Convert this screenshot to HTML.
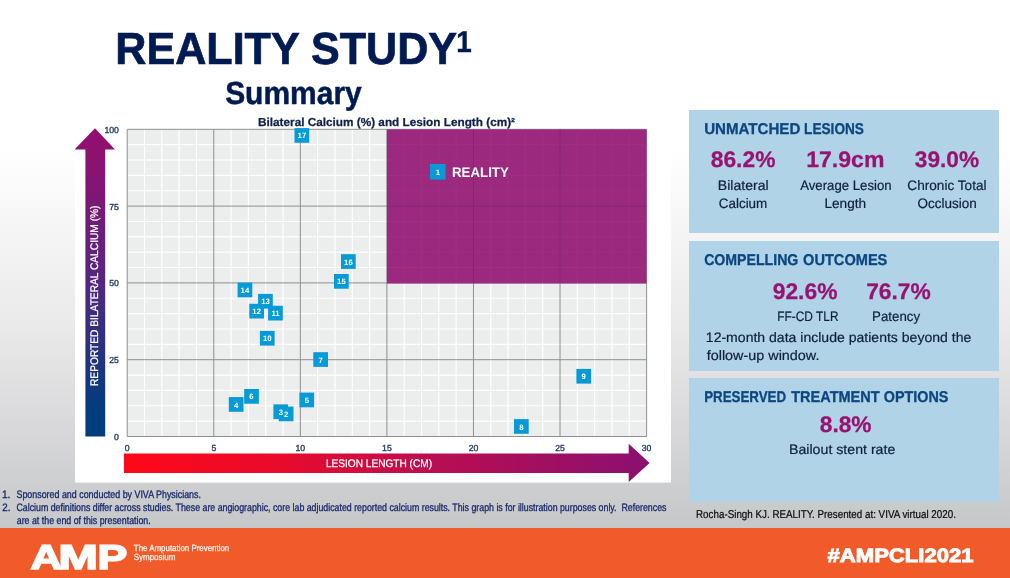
<!DOCTYPE html>
<html lang="en">
<head>
<meta charset="utf-8">
<title>REALITY STUDY Summary</title>
<style>
*{margin:0;padding:0;box-sizing:border-box}
html,body{width:1010px;height:578px;overflow:hidden}
body{position:relative;font-family:"Liberation Sans",sans-serif;background:#fff;text-rendering:geometricPrecision}
.slide{position:absolute;left:0;top:0;width:1010px;height:578px;overflow:hidden;
 background:linear-gradient(to bottom,#ffffff 0px,#ffffff 150px,#e9e9ea 330px,#c6c7c9 528px)}
.t{position:absolute;left:0;top:0;white-space:nowrap;line-height:1;transform-origin:0 0;display:block}
.chart{position:absolute;left:75px;top:113px}
h1,h2{font:inherit}
.ttl{font-size:45px;font-weight:bold;color:#001a52;-webkit-text-stroke:0.7px #001a52}
.sup{font-size:30px;font-weight:bold;color:#001a52;-webkit-text-stroke:0.4px #001a52}
.sub{font-size:32px;font-weight:bold;color:#001a52;-webkit-text-stroke:0.5px #001a52}
.box{position:absolute;left:689px;width:310px;background:#b0d3e8}
.b1{top:109.8px;height:123.3px}
.b2{top:241.2px;height:129.8px}
.b3{top:378.3px;height:123.8px}
.hd{font-weight:bold;color:#0c4680;font-size:15.6px;-webkit-text-stroke:0.3px #0c4680}
.num{font-weight:bold;color:#991270;font-size:22.5px;-webkit-text-stroke:0.25px #991270}
.lb{color:#0f1f3d;font-size:13.7px;-webkit-text-stroke:0.2px #0f1f3d}
.fn{color:#17276a;font-size:10.8px;-webkit-text-stroke:0.3px #17276a}
.ref{color:#0a0a0a;font-size:11.4px;-webkit-text-stroke:0.2px #0a0a0a}
.footer{position:absolute;left:0;top:528px;width:1010px;height:50px;background:#f15a29}
.amp{color:#fff;font-weight:bold;font-size:34.4px;-webkit-text-stroke:1.6px #fff}
.tag{color:#fff;font-weight:bold;font-size:19.3px;-webkit-text-stroke:0.9px #fff}
.sym{color:#fff3ee;font-size:9px;-webkit-text-stroke:0.25px #fff3ee}
</style>
</head>
<body>
<div class="slide">
<h1><span class="t ttl" id="ttl" style="transform:translate(115.26px,25.60px) scaleX(0.9582)">REALITY STUDY</span><span class="t sup" id="sup" style="transform:translate(456.20px,27.90px) scaleX(0.9300)">1</span></h1>
<h2><span class="t sub" id="sub" style="transform:translate(225.13px,77.20px) scaleX(0.9368)">Summary</span></h2>
<svg class="chart" text-rendering="geometricPrecision" width="596" height="370" viewBox="75 113 596 370">
<defs>
<linearGradient id="gv" x1="0" y1="0" x2="0" y2="1"><stop offset="0" stop-color="#920f6e"/><stop offset="0.12" stop-color="#8c1270"/><stop offset="0.5" stop-color="#54277f"/><stop offset="0.92" stop-color="#003d7c"/><stop offset="1" stop-color="#003d7c"/></linearGradient>
<linearGradient id="gh" x1="0" y1="0" x2="1" y2="0"><stop offset="0" stop-color="#ff0818"/><stop offset="0.3" stop-color="#e80a2c"/><stop offset="0.6" stop-color="#b80e52"/><stop offset="1" stop-color="#8a1070"/></linearGradient>
</defs>
<rect x="75" y="113" width="596" height="369.6" fill="#ffffff"/>
<rect x="127.2" y="129.3" width="519.4" height="307.2" fill="#eceded"/>
<path d="M144.51 129.3V436.5M161.83 129.3V436.5M179.14 129.3V436.5M196.45 129.3V436.5M231.08 129.3V436.5M248.39 129.3V436.5M265.71 129.3V436.5M283.02 129.3V436.5M317.65 129.3V436.5M334.96 129.3V436.5M352.27 129.3V436.5M369.59 129.3V436.5M404.21 129.3V436.5M421.53 129.3V436.5M438.84 129.3V436.5M456.15 129.3V436.5M490.78 129.3V436.5M508.09 129.3V436.5M525.41 129.3V436.5M542.72 129.3V436.5M577.35 129.3V436.5M594.66 129.3V436.5M611.97 129.3V436.5M629.29 129.3V436.5M127.2 421.14H646.6M127.2 405.78H646.6M127.2 390.42H646.6M127.2 375.06H646.6M127.2 344.34H646.6M127.2 328.98H646.6M127.2 313.62H646.6M127.2 298.26H646.6M127.2 267.54H646.6M127.2 252.18H646.6M127.2 236.82H646.6M127.2 221.46H646.6M127.2 190.74H646.6M127.2 175.38H646.6M127.2 160.02H646.6M127.2 144.66H646.6" stroke="#ffffff" stroke-width="1.15" fill="none"/>
<path d="M127.20 129.3V436.5M213.77 129.3V436.5M300.33 129.3V436.5M386.90 129.3V436.5M473.47 129.3V436.5M560.03 129.3V436.5M646.60 129.3V436.5M127.2 436.50H646.6M127.2 359.70H646.6M127.2 282.90H646.6M127.2 206.10H646.6M127.2 129.30H646.6" stroke="#8d8f90" stroke-width="1" fill="none"/>
<rect x="386.9" y="129.3" width="259.7" height="154.2" fill="#9b2a7f"/>
<path d="M404.21 129.3V282.9M421.53 129.3V282.9M438.84 129.3V282.9M456.15 129.3V282.9M490.78 129.3V282.9M508.09 129.3V282.9M525.41 129.3V282.9M542.72 129.3V282.9M577.35 129.3V282.9M594.66 129.3V282.9M611.97 129.3V282.9M629.29 129.3V282.9M386.9 267.54H646.6M386.9 252.18H646.6M386.9 236.82H646.6M386.9 221.46H646.6M386.9 190.74H646.6M386.9 175.38H646.6M386.9 160.02H646.6M386.9 144.66H646.6" stroke="#a02e83" stroke-width="1.1" fill="none"/>
<path d="M473.47 129.3V282.9M560.03 129.3V282.9M386.9 206.10H646.6" stroke="#892573" stroke-width="1" fill="none"/>
<path d="M85.4 436.5V149.4H74.5L95 128.2L115 149.4H105.2V436.5Z" fill="url(#gv)"/>
<path d="M124 453.5H628.7V443.7L649.6 463L628.7 482H628.7V472.9H124Z" fill="url(#gh)"/>
<g font-family="'Liberation Sans', sans-serif" font-size="8.7" fill="#1f3a5f" stroke="#1f3a5f" stroke-width="0.35">
<text x="118.9" y="439.9" text-anchor="end">0</text>
<text x="118.9" y="363.1" text-anchor="end">25</text>
<text x="118.9" y="286.3" text-anchor="end">50</text>
<text x="118.9" y="209.5" text-anchor="end">75</text>
<text x="118.9" y="132.7" text-anchor="end">100</text>
<text x="127.2" y="451.3" text-anchor="middle">0</text>
<text x="213.8" y="451.3" text-anchor="middle">5</text>
<text x="300.3" y="451.3" text-anchor="middle">10</text>
<text x="386.9" y="451.3" text-anchor="middle">15</text>
<text x="473.5" y="451.3" text-anchor="middle">20</text>
<text x="560.0" y="451.3" text-anchor="middle">25</text>
<text x="646.6" y="451.3" text-anchor="middle">30</text>
</g>
<text x="258" y="125.8" font-family="'Liberation Sans', sans-serif" font-weight="bold" font-size="11.6" fill="#10204a" stroke="#10204a" stroke-width="0.25" textLength="257" lengthAdjust="spacingAndGlyphs">Bilateral Calcium (%) and Lesion Length (cm)²</text>
<text x="325.9" y="466.6" font-family="'Liberation Sans', sans-serif" font-size="11" fill="#ffffff" stroke="#ffffff" stroke-width="0.25" textLength="106.2" lengthAdjust="spacingAndGlyphs">LESION LENGTH (CM)</text>
<text transform="translate(98.3 386.0) rotate(-90)" font-family="'Liberation Sans', sans-serif" font-size="11" fill="#ffffff" stroke="#ffffff" stroke-width="0.25" textLength="180.5" lengthAdjust="spacingAndGlyphs">REPORTED BILATERAL CALCIUM (%)</text>
<g fill="#069ad6">
<rect x="294.5" y="128.1" width="14.7" height="14.7"/>
<rect x="430.0" y="164.0" width="15.6" height="15.6"/>
<rect x="341.0" y="254.2" width="14.7" height="14.7"/>
<rect x="334.0" y="274.0" width="14.7" height="14.7"/>
<rect x="237.6" y="282.6" width="14.7" height="14.7"/>
<rect x="258.1" y="293.9" width="14.7" height="14.7"/>
<rect x="249.3" y="303.8" width="14.7" height="14.7"/>
<rect x="268.1" y="305.8" width="14.7" height="14.7"/>
<rect x="259.9" y="330.9" width="14.7" height="14.7"/>
<rect x="313.3" y="352.2" width="14.7" height="14.7"/>
<rect x="244.2" y="389.0" width="14.7" height="14.7"/>
<rect x="228.8" y="397.1" width="14.7" height="14.7"/>
<rect x="299.4" y="392.6" width="14.7" height="14.7"/>
<rect x="273.4" y="404.4" width="14.7" height="14.7"/>
<rect x="278.8" y="406.6" width="14.7" height="14.7"/>
<rect x="576.4" y="368.9" width="14.7" height="14.7"/>
<rect x="514.0" y="419.1" width="14.7" height="14.7"/>
</g>
<g font-family="'Liberation Sans', sans-serif" font-weight="bold" font-size="7.8" fill="#ffffff" text-anchor="middle">
<text x="301.9" y="138.4">17</text>
<text x="437.8" y="174.8">1</text>
<text x="348.4" y="264.5">16</text>
<text x="341.4" y="284.4">15</text>
<text x="244.9" y="293.0">14</text>
<text x="265.5" y="304.3">13</text>
<text x="256.7" y="314.1">12</text>
<text x="275.5" y="316.2">11</text>
<text x="267.3" y="341.3">10</text>
<text x="320.7" y="362.6">7</text>
<text x="251.5" y="399.4">6</text>
<text x="236.1" y="407.5">4</text>
<text x="306.8" y="403.0">5</text>
<text x="280.8" y="414.8">3</text>
<text x="286.1" y="417.0">2</text>
<text x="583.7" y="379.3">9</text>
<text x="521.4" y="429.5">8</text>
</g>
<text x="452" y="177" font-family="'Liberation Sans', sans-serif" font-weight="bold" font-size="14" fill="#ffffff" textLength="56.8" lengthAdjust="spacingAndGlyphs">REALITY</text>
</svg>
<div class="box b1"></div>
<div class="box b2"></div>
<div class="box b3"></div>
<div class="grp"><span class="t hd" id="h1a" style="transform:translate(704.14px,121.80px) scaleX(0.9685)">UNMATCHED</span> <span class="t hd" id="h1b" style="transform:translate(804.10px,121.80px) scaleX(0.8742)">LESIONS</span></div>
<div class="t num" id="n1" style="transform:translate(710.74px,148.50px) scaleX(1.0139)">86.2%</div>
<div class="t num" id="n2" style="transform:translate(806.21px,148.50px) scaleX(1.0247)">17.9cm</div>
<div class="t num" id="n3" style="transform:translate(914.79px,148.50px) scaleX(1.0083)">39.0%</div>
<div class="t lb" id="l1a" style="transform:translate(717.85px,178.80px) scaleX(1.0259)">Bilateral</div>
<div class="t lb" id="l1b" style="transform:translate(718.72px,196.80px) scaleX(0.9828)">Calcium</div>
<div class="t lb" id="l2a" style="transform:translate(800.15px,178.80px) scaleX(0.9640)">Average Lesion</div>
<div class="t lb" id="l2b" style="transform:translate(824.43px,196.80px) scaleX(0.9972)">Length</div>
<div class="t lb" id="l3a" style="transform:translate(907.36px,178.80px) scaleX(0.9942)">Chronic Total</div>
<div class="t lb" id="l3b" style="transform:translate(917.52px,196.80px) scaleX(0.9874)">Occlusion</div>
<div class="grp"><span class="t hd" id="h2a" style="transform:translate(704.16px,252.70px) scaleX(0.9061)">COMPELLING</span> <span class="t hd" id="h2b" style="transform:translate(803.04px,252.70px) scaleX(0.9357)">OUTCOMES</span></div>
<div class="t num" id="n4" style="transform:translate(772.74px,280.60px) scaleX(1.0139)">92.6%</div>
<div class="t num" id="n5" style="transform:translate(866.14px,280.50px) scaleX(1.0131)">76.7%</div>
<div class="t lb" id="l4" style="transform:translate(777.27px,309.60px) scaleX(0.8696)">FF-CD TLR</div>
<div class="t lb" id="l5" style="transform:translate(872.11px,309.60px) scaleX(0.9684)">Patency</div>
<div class="t lb" id="p1" style="transform:translate(705.82px,330.90px) scaleX(1.0260)">12-month data include patients beyond the</div>
<div class="t lb" id="p2" style="transform:translate(706.70px,349.30px) scaleX(1.0506)">follow-up window.</div>
<div class="grp"><span class="t hd" id="h3a" style="transform:translate(704.17px,390.30px) scaleX(0.8546)">PRESERVED</span> <span class="t hd" id="h3b" style="transform:translate(791.20px,390.30px) scaleX(0.9310)">TREATMENT</span> <span class="t hd" id="h3c" style="transform:translate(883.75px,390.30px) scaleX(0.9205)">OPTIONS</span></div>
<div class="t num" id="n6" style="transform:translate(819.79px,413.70px) scaleX(1.0097)">8.8%</div>
<div class="t lb" id="l6" style="transform:translate(788.99px,442.60px) scaleX(1.0352)">Bailout stent rate</div>
<div class="t ref" id="ref" style="transform:translate(696.02px,509.60px) scaleX(0.8617)">Rocha-Singh KJ. REALITY. Presented at: VIVA virtual 2020.</div>
<div class="t fn" id="f1n" style="transform:translate(1.89px,489.90px) scaleX(0.9444)">1.</div>
<div class="t fn" id="f1" style="transform:translate(16.48px,489.90px) scaleX(0.8225)">Sponsored and conducted by VIVA Physicians.</div>
<div class="t fn" id="f2n" style="transform:translate(2.19px,502.90px) scaleX(0.9069)">2.</div>
<div class="t fn" id="f2" style="transform:translate(16.44px,502.90px) scaleX(0.8152)">Calcium definitions differ across studies. These are angiographic, core lab adjudicated reported calcium results. This graph is for illustration purposes only.  References</div>
<div class="t fn" id="f3" style="transform:translate(16.73px,515.90px) scaleX(0.8178)">are at the end of this presentation.</div>
<div class="footer"></div>
<div class="grp"><span class="t amp" id="apa" style="transform:translate(30.40px,540.70px) scaleX(1.2675)">A</span><span class="t amp" id="apb" style="transform:translate(58.51px,540.70px) scaleX(1.3753)">M</span><span class="t amp" id="apc" style="transform:translate(97.51px,540.70px) scaleX(1.2970)">P</span></div>
<div class="t sym" id="sy1" style="transform:translate(133.82px,543.80px) scaleX(0.8790)">The Amputation Prevention</div>
<div class="t sym" id="sy2" style="transform:translate(133.64px,552.50px) scaleX(0.8900)">Symposium</div>
<div class="t tag" id="tag" style="transform:translate(827.50px,547.00px) scaleX(1.1454)">#AMPCLI2021</div>
</div>
</body>
</html>
